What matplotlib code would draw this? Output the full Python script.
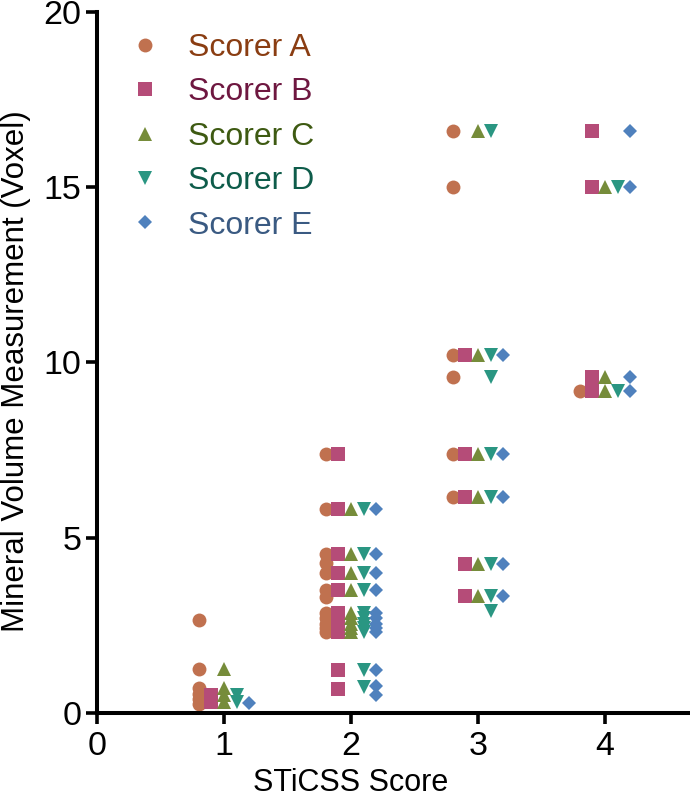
import matplotlib
matplotlib.use("Agg")
import matplotlib.pyplot as plt

# scores sur l'axe x
scores = [1, 2, 3, 4]
scorers = ["Scorer A", "Scorer B", "Scorer C", "Scorer D", "Scorer E"]

# valeurs, une liste par score
scorer_a = [
    [2.65, 1.25, 0.7, 0.55, 0.4, 0.25],
    [7.4, 5.83, 4.55, 4.27, 4.0, 3.5, 3.3, 2.85, 2.7, 2.55, 2.42, 2.3],
    [16.6, 15.0, 10.2, 9.6, 7.4, 6.15],
    [9.2],
]
scorer_b = [
    [0.5, 0.3],
    [7.4, 5.83, 4.55, 4.0, 3.5, 2.85, 2.7, 2.55, 2.42, 2.3, 1.22, 0.68],
    [10.2, 7.4, 6.15, 4.25, 3.35],
    [16.6, 15.0, 9.6, 9.2],
]
scorer_c = [
    [1.25, 0.7, 0.5, 0.3],
    [5.83, 4.55, 4.0, 3.5, 2.85, 2.7, 2.55, 2.42, 2.3],
    [16.6, 10.2, 7.4, 6.15, 4.25, 3.35],
    [15.0, 9.6, 9.2],
]
scorer_d = [
    [0.5, 0.3],
    [5.83, 4.55, 4.0, 3.5, 2.85, 2.7, 2.55, 2.42, 2.3, 1.22, 0.75],
    [16.6, 10.2, 9.6, 7.4, 6.15, 4.25, 3.35, 2.9],
    [15.0, 9.2],
]
scorer_e = [
    [0.28],
    [5.83, 4.55, 4.0, 3.5, 2.85, 2.7, 2.55, 2.42, 2.3, 1.22, 0.78, 0.52],
    [10.2, 7.4, 6.15, 4.25, 3.35],
    [16.6, 15.0, 9.6, 9.2],
]

x_ticks = [0, 1, 2, 3, 4]
y_ticks = [0, 5, 10, 15, 20]


def main():
    plt.rcParams["font.family"] = ["Liberation Sans", "DejaVu Sans"]
    fig = plt.figure(figsize=(6.9, 7.98), dpi=100)
    # haut de l'axe un peu plus bas pour que le "20" ne soit pas coupe
    ax = fig.add_axes([0.1406, 0.1065, 0.8594, 0.8785])

    all_data = [scorer_a, scorer_b, scorer_c, scorer_d, scorer_e]
    markers = ["o", "s", "^", "v", "D"]
    sizes = [10, 9.5, 10.5, 10.5, 7.5]
    colors = ["#C0714F", "#B54C78", "#768C3A", "#2A9682", "#4F81BD"]
    text_colors = ["#8A3D12", "#6E1740", "#3E5A12", "#0E5C4A", "#3A5A82"]
    offsets = [-0.2, -0.1, 0.0, 0.1, 0.2]

    for data, name, m, ms, c, off in zip(all_data, scorers, markers,
                                         sizes, colors, offsets):
        xs = []
        ys = []
        for score, vals in zip(scores, data):
            xs += [score + off] * len(vals)
            ys += vals
        ax.plot(xs, ys, linestyle="none", marker=m, markersize=ms,
                color=c, markeredgewidth=0, label=name)

    ax.set_xlim(0, 4.67)
    ax.set_ylim(0, 20)
    ax.set_xticks(x_ticks)
    ax.set_yticks(y_ticks)

    # axes style : juste gauche et bas, gros traits
    for side in ["top", "right"]:
        ax.spines[side].set_visible(False)
    for side in ["left", "bottom"]:
        ax.spines[side].set_linewidth(2.9)
    ax.tick_params(direction="out", length=8, width=2.6,
                   labelsize=24.5, pad=3)
    ax.tick_params(axis="x", pad=5)

    ax.set_xlabel("STiCSS Score", fontsize=22)
    ax.xaxis.set_label_coords(0.427, -0.078)
    ax.set_ylabel("Mineral Volume Measurement (Voxel)", fontsize=22.5)
    ax.yaxis.set_label_coords(-0.111, 0.488)

    leg = ax.legend(loc="upper left", bbox_to_anchor=(0.054, 0.97),
                    frameon=False, fontsize=23, numpoints=1,
                    handlelength=1.0, handletextpad=0.84,
                    labelspacing=0.45, borderpad=0, borderaxespad=0)
    for txt, tc in zip(leg.get_texts(), text_colors):
        txt.set_color(tc)

    fig.savefig("out.png", dpi=100)


if __name__ == "__main__":
    main()
